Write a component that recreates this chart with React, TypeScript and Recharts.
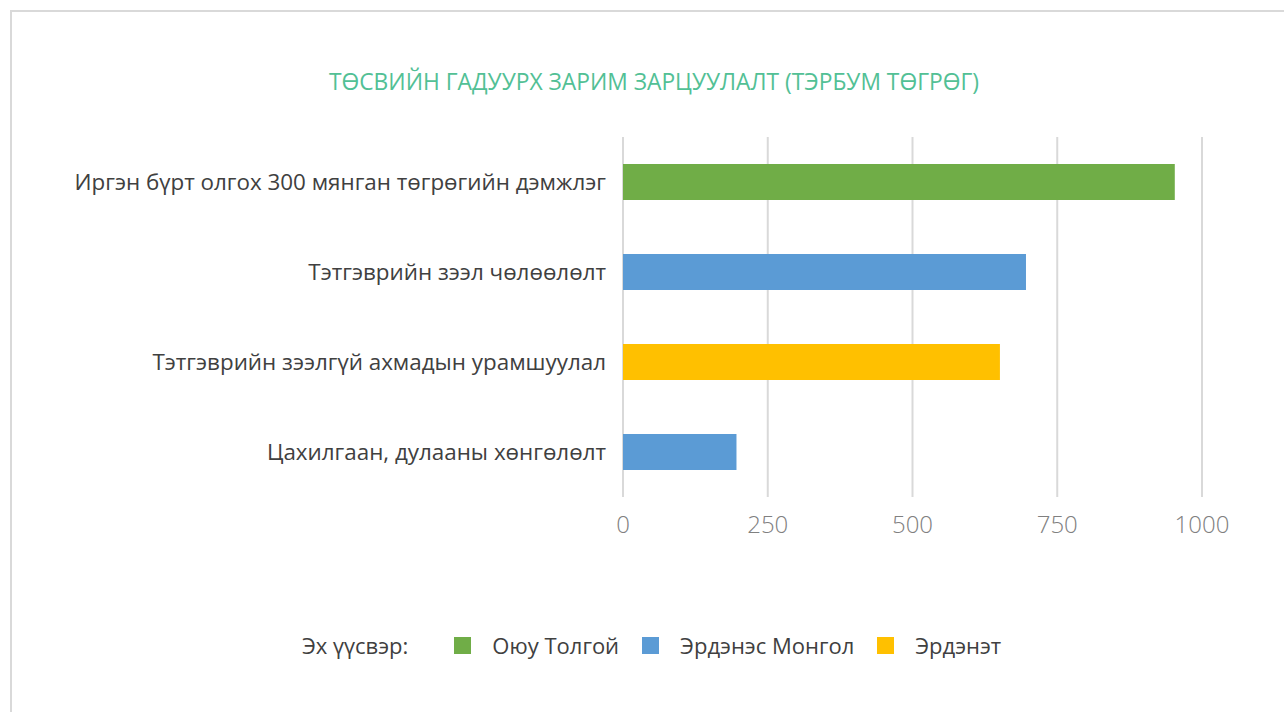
import React from "react";
import { BarChart, Bar, XAxis, YAxis, CartesianGrid, Cell } from "recharts";

const categories = [
  "Иргэн бүрт олгох 300 мянган төгрөгийн дэмжлэг",
  "Тэтгэврийн зээл чөлөөлөлт",
  "Тэтгэврийн зээлгүй ахмадын урамшуулал",
  "Цахилгаан, дулааны хөнгөлөлт",
];
const values = [953, 696, 651, 196];
const sources = ["Оюу Толгой", "Эрдэнэс Монгол", "Эрдэнэт", "Эрдэнэс Монгол"];
const sourceNames = ["Оюу Толгой", "Эрдэнэс Монгол", "Эрдэнэт"];
const sourceColors = ["#70ad47", "#5b9bd5", "#ffc000"];
const xTicks = [0, 250, 500, 750, 1000];
const title = "ТӨСВИЙН ГАДУУРХ ЗАРИМ ЗАРЦУУЛАЛТ (ТЭРБУМ ТӨГРӨГ)";
const legendLabel = "Эх үүсвэр:";

const data = categories.map((c, i) => ({ name: c, value: values[i], source: sources[i] }));
const colorOf = (s: string) => sourceColors[sourceNames.indexOf(s)];

const FONT = "'Open Sans', 'Noto Sans', sans-serif";

const CatTick = (props: any) => {
  const { x, y, payload } = props;
  return (
    <text x={x} y={y} dy="0.35em" textAnchor="end" fill="#404040" fontSize={22.4} fontFamily={FONT}>
      {payload.value}
    </text>
  );
};

const LegendBox = () => (
  <div
    style={{
      position: "absolute",
      left: 290,
      top: 618,
      display: "flex",
      alignItems: "center",
      fontFamily: FONT,
      fontSize: 22,
      color: "#404040",
      whiteSpace: "nowrap",
    }}
  >
    <span style={{ marginRight: 46 }}>{legendLabel}</span>
    {sourceNames.map((s, i) => (
      <span key={s} style={{ display: "flex", alignItems: "center", marginRight: 23 }}>
        <span style={{ width: 17, height: 17, background: sourceColors[i], display: "inline-block", marginRight: 21 }} />
        <span>{s}</span>
      </span>
    ))}
  </div>
);

export default function App() {
  return (
    <div
      style={{
        position: "fixed",
        left: 10,
        top: 10,
        width: 1300,
        height: 720,
        border: "2px solid #d9d9d9",
        background: "#fff",
        boxSizing: "border-box",
      }}
    >
      <div
        style={{
          position: "absolute",
          left: 0,
          top: 54,
          width: 1284,
          textAlign: "center",
          fontFamily: FONT,
          fontSize: 22.8,
          fontWeight: 400,
          color: "#52c095",
        }}
      >
        {title}
      </div>
      <div style={{ position: "absolute", left: 0, top: 0 }}>
        <BarChart
          width={1270}
          height={690}
          data={data}
          layout="vertical"
          margin={{ top: 125, right: 80, bottom: 0, left: 0 }}
          barCategoryGap={27}
        >
          <CartesianGrid horizontal={false} stroke="#d9d9d9" strokeWidth={2} />
          <XAxis
            type="number"
            domain={[0, 1000]}
            ticks={xTicks}
            axisLine={false}
            tickLine={false}
            tickSize={0}
            tickMargin={19}
            height={205}
            tick={{ fill: "#808080", fontSize: 24, fontWeight: 300, fontFamily: FONT }}
            interval={0}
          />
          <YAxis
            type="category"
            dataKey="name"
            width={611}
            axisLine={false}
            tickLine={false}
            tickSize={0}
            tickMargin={17}
            tick={<CatTick />}
            interval={0}
          />
          <Bar dataKey="value" isAnimationActive={false} barSize={36}>
            {data.map((d, i) => (
              <Cell key={i} fill={colorOf(d.source)} />
            ))}
          </Bar>
        </BarChart>
      </div>
      <LegendBox />
    </div>
  );
}
